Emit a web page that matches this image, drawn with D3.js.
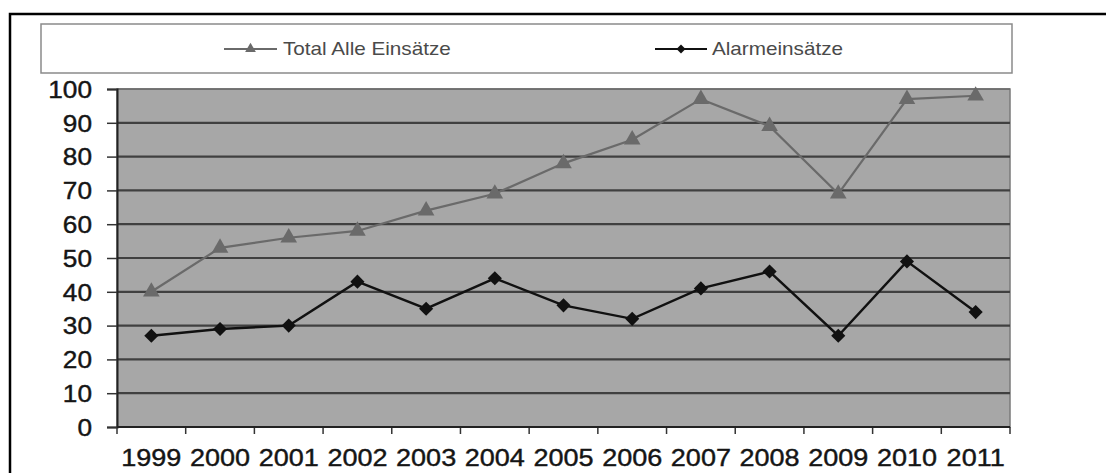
<!DOCTYPE html>
<html><head><meta charset="utf-8">
<script src="https://cdn.jsdelivr.net/npm/d3@7"></script>
<style>body{margin:0;background:#fff}svg{display:block}</style>
</head><body>
<svg id="c" width="1106" height="473"></svg>
<script>
const years = ["1999","2000","2001","2002","2003","2004","2005","2006","2007","2008","2009","2010","2011"];
const totalAlle = [40,53,56,58,64,69,78,85,97,89,69,97,98];
const alarm = [27,29,30,43,35,44,36,32,41,46,27,49,34];
const yTicks = [0,10,20,30,40,50,60,70,80,90,100];
const seriesNames = ["Total Alle Einsätze","Alarmeinsätze"];

const svg = d3.select("#c");
const W = 1106, H = 473;
const pLeft = 117, pRight = 1010, pTop = 89, pBottom = 427;
const font = "Arial, 'Liberation Sans', sans-serif";

// outer frame
svg.append("path").attr("d", `M10,${H} L10,14 L${W},14`).attr("fill","none").attr("stroke","#000").attr("stroke-width",2.5);

// legend box
svg.append("rect").attr("x",41).attr("y",24).attr("width",971).attr("height",49)
  .attr("fill","#fff").attr("stroke","#8a8a8a").attr("stroke-width",1.5);

const x = d3.scaleBand().domain(years).range([pLeft,pRight]).padding(0);
const y = d3.scaleLinear().domain([0,100]).range([pBottom,pTop]);
const cx = d => x(d) + x.bandwidth()/2;

// plot area
svg.append("rect").attr("x",pLeft).attr("y",y(100)).attr("width",pRight-pLeft).attr("height",y(0)-y(100))
  .attr("fill","#a7a7a7").attr("stroke","#7a7a7a").attr("stroke-width",1.5);

// gridlines
svg.append("g").selectAll("line").data(yTicks.filter(v=>v>0&&v<100)).join("line")
  .attr("x1",pLeft).attr("x2",pRight).attr("y1",d=>y(d)).attr("y2",d=>y(d))
  .attr("stroke","#404040").attr("stroke-width",2.2);
svg.append("line").attr("x1",pLeft).attr("x2",pRight).attr("y1",y(100)).attr("y2",y(100))
  .attr("stroke","#6a6a6a").attr("stroke-width",1.5);

// y axis
const yAxis = d3.axisLeft(y).tickValues(yTicks).tickSize(10).tickPadding(6);
const gy = svg.append("g").attr("transform",`translate(${pLeft},0)`).call(yAxis);
gy.select(".domain").attr("stroke","#222").attr("stroke-width",2);
gy.selectAll(".tick line").attr("stroke","#333").attr("stroke-width",1.5);
gy.selectAll(".tick text").attr("font-family",font).attr("font-size",23).attr("fill","#151515")
  .attr("stroke","#151515").attr("stroke-width",0.4)
  .attr("transform","scale(1.14,1)").attr("x",-25/1.14).attr("dy","0.36em");

// x axis: labels
const xAxis = d3.axisBottom(x).tickSize(0).tickPadding(22);
const gx = svg.append("g").attr("transform",`translate(0,${pBottom})`).call(xAxis);
gx.select(".domain").remove();
gx.selectAll(".tick text").attr("font-family",font).attr("font-size",23.5).attr("fill","#151515")
  .attr("stroke","#151515").attr("stroke-width",0.4)
  .attr("transform","scale(1.15,1)");
// x ticks at band boundaries
const bounds = years.map(d=>x(d)).concat([pRight]);
svg.append("g").selectAll("line").data(bounds).join("line")
  .attr("x1",d=>d).attr("x2",d=>d).attr("y1",pBottom).attr("y2",pBottom+7)
  .attr("stroke","#333").attr("stroke-width",1.5);
svg.append("line").attr("x1",pLeft).attr("x2",pRight).attr("y1",pBottom).attr("y2",pBottom)
  .attr("stroke","#222").attr("stroke-width",2);

const line = d3.line().x((d,i)=>cx(years[i])).y(d=>y(d));

// Total series (grey, triangles)
const grey = "#6a6a6a";
svg.append("path").datum(totalAlle).attr("d",line).attr("fill","none").attr("stroke",grey).attr("stroke-width",2.2);
const tri = d3.symbol().type(d3.symbolTriangle).size(120);
svg.append("g").selectAll("path").data(totalAlle).join("path")
  .attr("d",tri).attr("transform",(d,i)=>`translate(${cx(years[i])},${y(d)})`).attr("fill",grey);

// Alarm series (black, diamonds)
svg.append("path").datum(alarm).attr("d",line).attr("fill","none").attr("stroke","#111").attr("stroke-width",2.4);
const dia = d3.symbol().type(d3.symbolSquare).size(100);
svg.append("g").selectAll("path").data(alarm).join("path")
  .attr("d",dia).attr("transform",(d,i)=>`translate(${cx(years[i])},${y(d)}) rotate(45)`).attr("fill","#111");

// legend
const leg = [
  {name:seriesNames[0], x1:224, x2:277, tx:283, color:grey, sym:d3.symbol().type(d3.symbolTriangle).size(50), rot:0},
  {name:seriesNames[1], x1:655, x2:707, tx:712, color:"#111", sym:d3.symbol().type(d3.symbolSquare).size(40), rot:45}
];
const ly = 49;
leg.forEach(l=>{
  svg.append("line").attr("x1",l.x1).attr("x2",l.x2).attr("y1",ly).attr("y2",ly).attr("stroke",l.color).attr("stroke-width",2);
  svg.append("path").attr("d", l.sym)
    .attr("transform",`translate(${(l.x1+l.x2)/2},${ly}) rotate(${l.rot})`).attr("fill",l.color);
  svg.append("text").attr("x",l.tx/1.15).attr("y",ly).attr("dy","0.36em").attr("transform","scale(1.15,1)")
    .attr("font-family",font).attr("font-size",18).attr("fill","#4a4a4a").text(l.name);
});
</script>
</body></html>
